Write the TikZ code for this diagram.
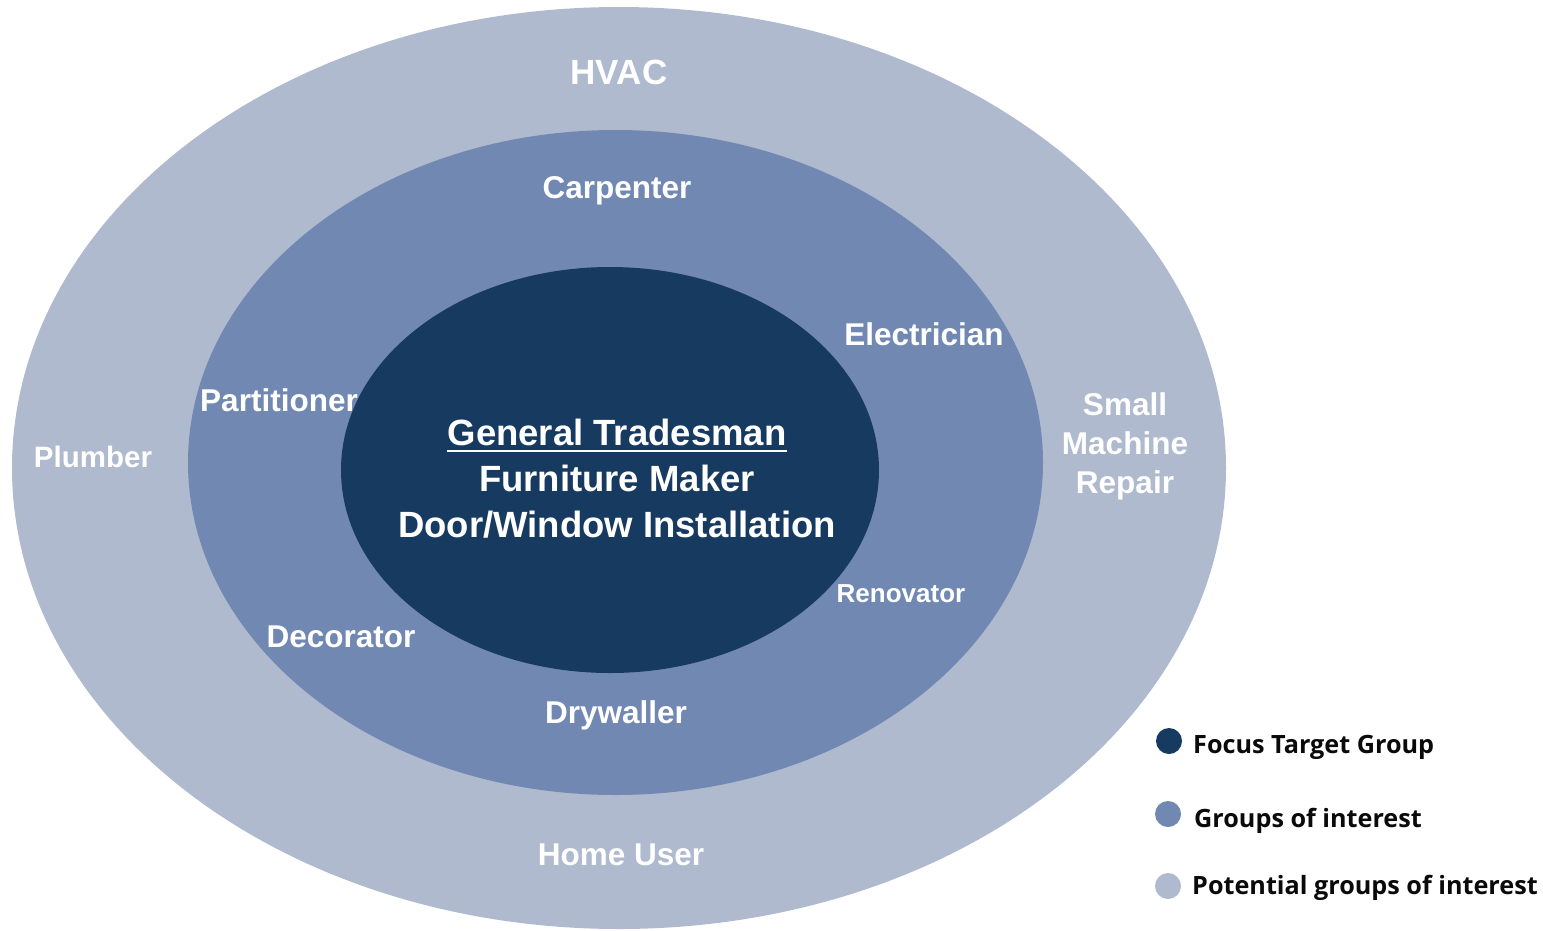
\documentclass[tikz,border=0pt]{standalone}
\usepackage{fontspec}
\setmainfont{Liberation Sans}
\newfontfamily\legendfont{Open Sans}
\definecolor{outerc}{HTML}{AFBACF}
\definecolor{midc}{HTML}{7189B2}
\definecolor{innerc}{HTML}{173A61}
\definecolor{legtext}{HTML}{0A0A0A}
\tikzset{
  lbl/.style={text=white, font=\fontsize{31.5}{37}\selectfont\bfseries, inner sep=0pt, anchor=base},
  ctr/.style={text=white, font=\fontsize{36.5}{44}\selectfont\bfseries, inner sep=0pt, anchor=base},
  legdot/.style={circle, inner sep=0pt, minimum size=26pt},
  legtxt/.style={text=legtext, font=\legendfont\fontsize{25.2}{30}\selectfont\bfseries, inner sep=0pt, anchor=base west},
}
\begin{document}
\begin{tikzpicture}[x=1pt,y=-1pt]
\useasboundingbox (0,0) rectangle (1543,930);
% rings
\fill[outerc] (619,468) ellipse [x radius=607, y radius=461];
\fill[midc] (615.5,462.5) ellipse [x radius=427.5, y radius=332.5];
\fill[innerc] (610,470) ellipse [x radius=269, y radius=203];
% outer labels
\node[lbl, font=\fontsize{35}{40}\selectfont\bfseries] (hvac) at (619,84) {HVAC};
\node[lbl, font=\fontsize{29.5}{35}\selectfont\bfseries] (plumber) at (93,467) {Plumber};
\node[lbl] (homeuser) at (621,865) {Home User};
\node[lbl, align=center, anchor=base, font=\fontsize{31.5}{39}\selectfont\bfseries] (smr) at (1125,493) {Small\\Machine\\Repair};
% middle labels
\node[lbl] (carpenter) at (617,198) {Carpenter};
\node[lbl] (electrician) at (924,345) {Electrician};
\node[lbl] (partitioner) at (279,411) {Partitioner};
\node[lbl, font=\fontsize{26}{30}\selectfont\bfseries] (renovator) at (901,602) {Renovator};
\node[lbl] (decorator) at (341,647) {Decorator};
\node[lbl] (drywaller) at (616,723) {Drywaller};
% centre
\node[ctr] (gt) at (617,445) {General Tradesman};
\draw[white, line width=1.6pt] ([yshift=-6]gt.base west) -- ([yshift=-6]gt.base east);
\node[ctr] (fm) at (617,491) {Furniture Maker};
\node[ctr] (dw) at (617,537) {Door/Window Installation};
% legend
\node[legdot, fill=innerc] (d1) at (1169,741) {};
\node[legdot, fill=midc] (d2) at (1168,814) {};
\node[legdot, fill=outerc] (d3) at (1168,886) {};
\node[legtxt] (t1) at (1193,753) {Focus Target Group};
\node[legtxt] (t2) at (1194,827) {Groups of interest};
\node[legtxt] (t3) at (1192,894) {Potential groups of interest};
\end{tikzpicture}
\end{document}
